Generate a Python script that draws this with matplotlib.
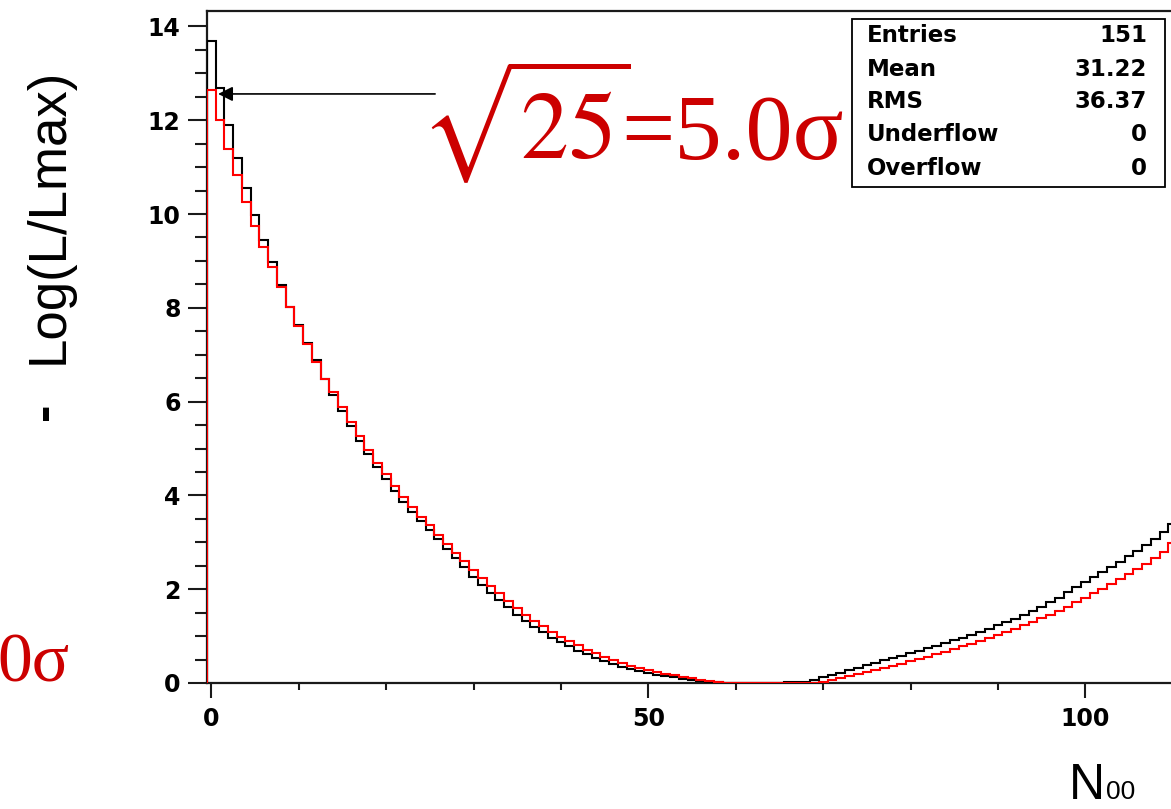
import numpy as np
import matplotlib
matplotlib.use("Agg")
import matplotlib.pyplot as plt
from matplotlib.ticker import MultipleLocator, FixedLocator
from matplotlib.patches import Rectangle
from matplotlib import font_manager

# ---------------- data ----------------
black_vals = [13.68, 12.69, 11.90, 11.20, 10.55, 9.98, 9.45, 8.97, 8.48, 8.01,
              7.64, 7.25, 6.88, 6.49, 6.14, 5.80, 5.48, 5.17, 4.88, 4.60,
              4.34, 4.09, 3.86, 3.65, 3.45, 3.26, 3.06, 2.86, 2.66, 2.47,
              2.26, 2.09, 1.92, 1.76, 1.61, 1.46, 1.33, 1.20, 1.08, 0.97,
              0.87, 0.78, 0.69, 0.61, 0.53, 0.46, 0.40, 0.35, 0.30, 0.25,
              0.21, 0.18, 0.15, 0.12, 0.09, 0.07, 0.05, 0.03, 0.02, 0.01,
              0.00, 0.00, 0.00, 0.00, 0.00, 0.00, 0.02, 0.02, 0.02, 0.07,
              0.12, 0.17, 0.22, 0.27, 0.33, 0.38, 0.43, 0.48, 0.53, 0.58,
              0.63, 0.68, 0.74, 0.79, 0.85, 0.91, 0.97, 1.03, 1.09, 1.16,
              1.23, 1.30, 1.37, 1.45, 1.53, 1.62, 1.72, 1.82, 1.93, 2.04,
              2.15, 2.25, 2.36, 2.47, 2.58, 2.70, 2.82, 2.95, 3.08, 3.22,
              3.40]
red_vals = [12.65, 12.00, 11.39, 10.83, 10.26, 9.74, 9.30, 8.86, 8.44, 8.01,
            7.61, 7.22, 6.85, 6.49, 6.20, 5.88, 5.56, 5.26, 4.97, 4.70,
            4.45, 4.20, 3.96, 3.75, 3.55, 3.36, 3.16, 2.97, 2.78, 2.60,
            2.41, 2.24, 2.07, 1.91, 1.75, 1.60, 1.46, 1.33, 1.21, 1.09,
            0.99, 0.89, 0.80, 0.71, 0.63, 0.56, 0.49, 0.43, 0.37, 0.32,
            0.28, 0.24, 0.20, 0.16, 0.13, 0.10, 0.07, 0.05, 0.03, 0.01,
            0.00, 0.00, 0.00, 0.00, 0.00, 0.00, 0.00, 0.00, 0.00, 0.01,
            0.03, 0.07, 0.11, 0.15, 0.20, 0.24, 0.28, 0.32, 0.37, 0.41,
            0.46, 0.51, 0.56, 0.61, 0.67, 0.73, 0.78, 0.84, 0.90, 0.96,
            1.02, 1.09, 1.16, 1.23, 1.30, 1.38, 1.46, 1.54, 1.63, 1.72,
            1.82, 1.91, 2.01, 2.11, 2.21, 2.32, 2.43, 2.54, 2.66, 2.80,
            2.98]
bin_low, bin_high = -0.5, 150.5          # histogram range (151 bins)
x_major_ticks = [0, 50, 100]
stat_labels = ["Entries", "Mean", "RMS", "Underflow", "Overflow"]
stat_values = ["151", "31.22", "36.37", "0", "0"]
sig_text_main = r"$\sqrt{25}$"
sig_text_rest = "=5.0\u03c3"
arrow_tip = (0.77, 12.56)
arrow_tail = (25.6, 12.56)

W, H = 1171, 809
fig = plt.figure(figsize=(W / 100, H / 100), dpi=100)

def fx(x):
    return x / W

def fy(y):
    return 1 - y / H

# axes geometry: y-axis line at px 207, x=0 at 211.4, 8.74 px / unit
px_per_x = 8.74
left_px, bottom_px, top_px = 207, 683, 11
width_px = (bin_high - bin_low) * px_per_x
ax = fig.add_axes([fx(left_px), fy(bottom_px), width_px / W, (bottom_px - top_px) / H])

edges = np.arange(len(black_vals) + 1) - 0.5
ax.stairs(black_vals, edges, color="black", lw=1.5, zorder=3)
ax.stairs(red_vals, edges, color="#ff0000", lw=1.5, zorder=3.1)

ax.set_xlim(bin_low, bin_high)
ax.set_ylim(0, (bottom_px - top_px) / 46.9)

spine_col = "#1a1a1a"
for s in ["left", "bottom", "top"]:
    ax.spines[s].set_linewidth(1.6)
    ax.spines[s].set_color(spine_col)
ax.spines["right"].set_visible(False)

ax.xaxis.set_major_locator(FixedLocator(x_major_ticks))
ax.xaxis.set_minor_locator(MultipleLocator(10))
ax.yaxis.set_major_locator(MultipleLocator(2))
ax.yaxis.set_minor_locator(MultipleLocator(0.5))
ax.tick_params(axis="x", which="major", direction="out", length=11, width=1.5,
               color=spine_col, pad=6, labelsize=17)
ax.tick_params(axis="x", which="minor", direction="out", length=5, width=1.5,
               color=spine_col)
ax.tick_params(axis="y", which="major", direction="out", length=14, width=1.5,
               color=spine_col, pad=5, labelsize=17)
ax.tick_params(axis="y", which="minor", direction="out", length=8.5, width=1.5,
               color=spine_col)
for lab in ax.get_xticklabels() + ax.get_yticklabels():
    lab.set_fontfamily("DejaVu Sans")
    lab.set_fontweight("bold")

# arrow
ax.annotate("", xy=arrow_tip, xytext=arrow_tail,
            arrowprops=dict(arrowstyle="-|>", color="black", lw=1.2,
                            mutation_scale=22, shrinkA=0, shrinkB=0),
            zorder=5)

# stat box
fig.patches.append(Rectangle((fx(852), fy(187)), (1165 - 852) / W, (187 - 19) / H,
                             transform=fig.transFigure, facecolor="white",
                             edgecolor="black", lw=1.3, zorder=10))
baselines = [41.5, 76, 107.5, 141, 175]
for lab, val, b in zip(stat_labels, stat_values, baselines):
    fig.text(fx(867), fy(b), lab, fontsize=16.5, fontweight="bold",
             family="DejaVu Sans", ha="left", va="baseline", zorder=11)
    fig.text(fx(1147), fy(b), val, fontsize=16.5, fontweight="bold",
             family="DejaVu Sans", ha="right", va="baseline", zorder=11)

# big red sigma text
red_txt = "#cc0000"
plt.rcParams["mathtext.fontset"] = "stix"
fig.text(fx(420), fy(159), sig_text_main, fontsize=69, color=red_txt,
         ha="left", va="baseline")
fig.text(fx(621), fy(159), sig_text_rest, fontsize=68, color=red_txt,
         family="Liberation Serif", ha="left", va="baseline")

# "0σ" at lower left
fig.text(fx(70), fy(682), "0\u03c3", fontsize=50, color=red_txt,
         family="Liberation Serif", ha="right", va="baseline")

# y label
names = {f.name for f in font_manager.fontManager.ttflist}
if "Liberation Sans Narrow" in names:
    yfam, ysize = "Liberation Sans Narrow", 45
else:
    yfam, ysize = "Liberation Sans", 38
fig.text(fx(63), fy(364), "Log(L/Lmax)", fontsize=ysize, family=yfam,
         rotation=90, rotation_mode="anchor", ha="left", va="baseline")
fig.text(fx(45), fy(411), "-", fontsize=ysize, family=yfam, fontweight="bold",
         rotation=90, rotation_mode="anchor", ha="center", va="center")

# x label N00
fig.text(fx(1105), fy(799), "N", fontsize=36, family=yfam,
         ha="right", va="baseline")
fig.text(fx(1106), fy(799), "00", fontsize=19, family=yfam,
         ha="left", va="baseline")

fig.savefig("out.png", dpi=100)
